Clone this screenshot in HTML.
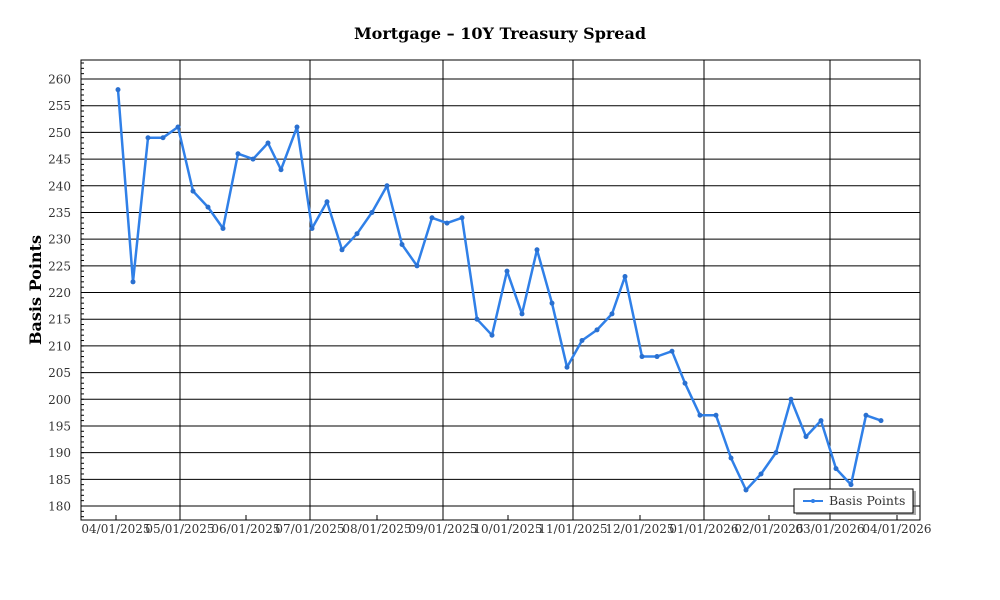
<!DOCTYPE html>
<html><head><meta charset="utf-8"><style>
html,body{margin:0;padding:0;background:#fff;}
svg{display:block;font-family:"DejaVu Serif","Liberation Serif",serif;}
</style></head><body>
<svg id="s" width="1000" height="600" xmlns="http://www.w3.org/2000/svg">
<rect width="1000" height="600" fill="#fff"/>
<text x="500" y="39" text-anchor="middle" font-size="16" font-weight="bold" fill="#000">Mortgage – 10Y Treasury Spread</text>
<text transform="translate(41,290) rotate(-90)" text-anchor="middle" font-size="16" font-weight="bold" fill="#000">Basis Points</text>
<g id="g"></g>
<rect x="81" y="60" width="839" height="460" fill="none" stroke="#000" stroke-width="1"/>
<g id="d"></g>
<rect x="796" y="491" width="120" height="24" fill="#555" opacity="0.5"/>
<rect x="794" y="489" width="119" height="24" fill="#fff" stroke="#000" stroke-width="1"/>
<line x1="803" y1="501" x2="823" y2="501" stroke="#3080e8" stroke-width="2"/>
<circle cx="813" cy="501" r="2" fill="#3080e8"/>
<text x="829" y="505" font-size="12.5" fill="#333">Basis Points</text>
</svg>
<script>
const ns="http://www.w3.org/2000/svg",g=document.getElementById('g'),d=document.getElementById('d');
function el(p,t,a,txt){const e=document.createElementNS(ns,t);for(const k in a)e.setAttribute(k,a[k]);if(txt)e.textContent=txt;p.appendChild(e);return e;}
const Y=v=>506-(v-180)*5.3375;
for(let v=177;v<=263;v++){const y=Y(v);if(y<61||y>519)continue;el(g,'line',{x1:81,x2:84,y1:y,y2:y,stroke:'#000'});}
for(let v=180;v<=260;v+=5){const y=Y(v);el(g,'line',{x1:81,x2:920,y1:y,y2:y,stroke:'#000','stroke-width':1});el(g,'text',{x:71,y:y+4.5,'text-anchor':'end','font-size':12,fill:'#333'},String(v));}
[180,310,443,573,704,830].forEach(x=>el(g,'line',{x1:x,x2:x,y1:60,y2:520,stroke:'#000'}));
const lab=[[116,'04/01/2025'],[180,'05/01/2025'],[246,'06/01/2025'],[310,'07/01/2025'],[377,'08/01/2025'],[443,'09/01/2025'],[508,'10/01/2025'],[573,'11/01/2025'],[640,'12/01/2025'],[704,'01/01/2026'],[769,'02/01/2026'],[830,'03/01/2026'],[897,'04/01/2026']];
lab.forEach(([x,t])=>{el(g,'line',{x1:x,x2:x,y1:515,y2:520,stroke:'#000'});el(g,'text',{x:x,y:533,'text-anchor':'middle','font-size':12,fill:'#333'},t);});
const P=[[118,258],[133,222],[148,249],[163,249],[178,251],[193,239],[208,236],[223,232],[238,246],[253,245],[268,248],[281,243],[297,251],[312,232],[327,237],[342,228],[357,231],[372,235],[387,240],[402,229],[417,225],[432,234],[447,233],[462,234],[477,215],[492,212],[507,224],[522,216],[537,228],[552,218],[567,206],[582,211],[597,213],[612,216],[625,223],[642,208],[657,208],[672,209],[685,203],[700,197],[716,197],[731,189],[746,183],[761,186],[776,190],[791,200],[806,193],[821,196],[836,187],[851,184],[866,197],[881,196]];
el(d,'polyline',{points:P.map(p=>p[0]+','+Y(p[1]).toFixed(1)).join(' '),fill:'none',stroke:'#3080e8','stroke-width':2.5,'stroke-linejoin':'round'});
P.forEach(p=>el(d,'circle',{cx:p[0],cy:Y(p[1]),r:2.5,fill:'#2a70d0'}));
</script>
</body></html>
